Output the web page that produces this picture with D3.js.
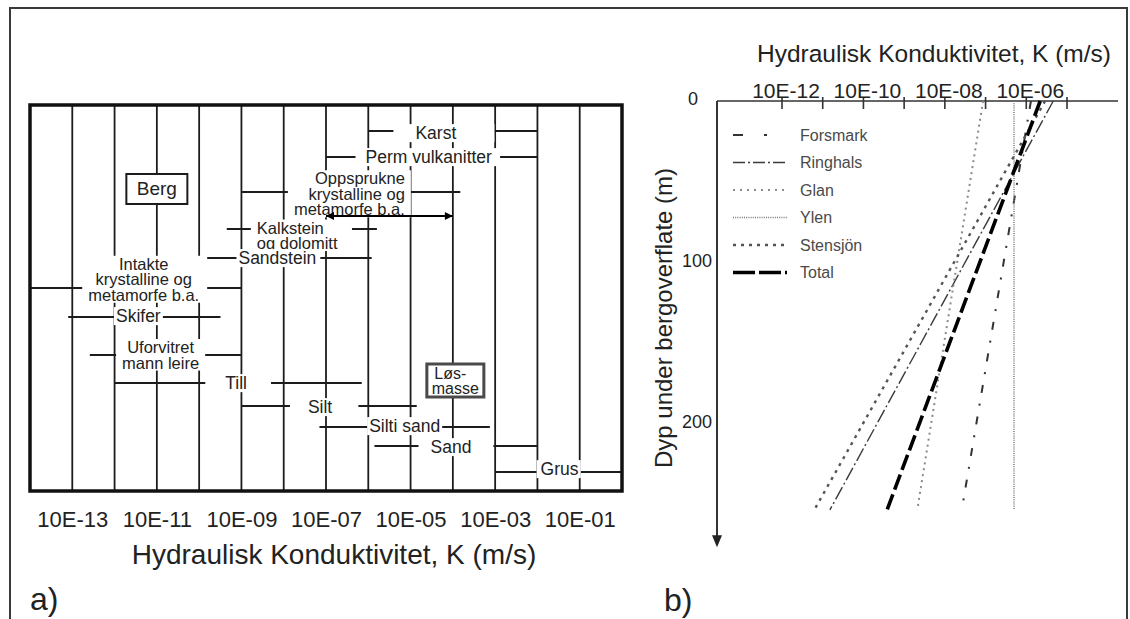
<!DOCTYPE html>
<html>
<head>
<meta charset="utf-8">
<script src="https://cdn.jsdelivr.net/npm/d3@7"></script>
<style>
  html, body { margin: 0; padding: 0; background: #fff; }
  svg { display: block; font-family: "Liberation Sans", Arial, sans-serif; }
</style>
</head>
<body>
<svg id="fig" width="1130" height="619"></svg>
<script>
// ---- Panel a: typical hydraulic conductivity ranges (m/s) ----
const materials = [
  "Karst", "Perm vulkanitter", "Oppsprukne krystalline og metamorfe b.a.",
  "Kalkstein og dolomitt", "Sandstein", "Intakte krystalline og metamorfe b.a.",
  "Skifer", "Uforvitret mann leire", "Till", "Silt", "Silti sand", "Sand", "Grus"
];
const materialLines = [
  ["Karst"], ["Perm vulkanitter"], ["Oppsprukne", "krystalline og", "metamorfe b.a."],
  ["Kalkstein", "og dolomitt"], ["Sandstein"], ["Intakte", "krystalline og", "metamorfe b.a."],
  ["Skifer"], ["Uforvitret", "mann leire"], ["Till"], ["Silt"], ["Silti sand"], ["Sand"], ["Grus"]
];
const kMin = [1e-6, 1e-7, 1e-9, 4.5e-10, 1e-10, 1e-14, 8e-14, 2.6e-13, 1e-12, 1e-9, 7e-8, 1.4e-6, 1e-3];
const kMax = [1e-2, 1e-2, 1.5e-4, 1.6e-6, 1.2e-6, 1e-9, 3.2e-10, 1e-9, 7e-7, 1.4e-5, 7.5e-4, 1e-2, 1];
const groupNames = [["Berg"], ["Løs-", "masse"]];
const groupK = [1e-11, 1e-4];
const fractureArrow = [1e-7, 1e-4];
const gridExpA = [-13, -12, -11, -10, -9, -8, -7, -6, -5, -4, -3, -2, -1];
const labelExpA = [-13, -11, -9, -7, -5, -3, -1];

// ---- Panel b: conductivity trend with depth per site ----
const sites = ["Forsmark", "Ringhals", "Glan", "Ylen", "Stensjön", "Total"];
const depthEnds = [0, 254];
const kTop = [1.3e-6, 4.6e-6, 8.7e-8, 5e-7, 2.9e-6, 2.2e-6];
const kBottom = [2.6e-8, 1.5e-11, 2.1e-9, 5e-7, 6.2e-12, 3.8e-10];
const tickExpB = [-12, -11, -10, -9, -8, -7, -6, -5];
const labelExpB = [-12, -10, -8, -6];
const depthTicks = [0, 100, 200];

const fmtK = e => "10E" + (e < 0 ? "-" : "+") + String(Math.abs(e)).padStart(2, "0");

const svg = d3.select("#fig");
const ink = "#1c1c1c";

// outer frame
svg.append("path").attr("d", "M10,630V8H1127V630")
  .attr("fill", "none").attr("stroke", "#3a3a3a").attr("stroke-width", 2);

// ================= Panel a =================
const boxA = { left: 30, right: 622, top: 105, bottom: 491 };
const xA = d3.scaleLog().domain([1e-14, 1]).range([boxA.left, boxA.right]);
const rowY = d3.scaleOrdinal().domain(materials)
  .range([131, 157, 192, 229, 258, 288, 317, 355, 383, 406, 427, 446, 472]);
// label placement: anchor, x-offset from the log-centre of the range, y-offset of the text block,
// extra white margin left / right of the text
const labelLayout = [
  ["middle", -17, 2, 22, 38], ["middle", -3, 0, 10, 8], ["end", 54, 2, 6, 6], ["start", -45, 6.5, 6, 14],
  ["middle", -8, 0, 2, 4], ["middle", 8, -8.5, 6, 8], ["middle", -6, -1, 2, 2], ["middle", -5, 0, 6, 6],
  ["middle", -2, 0, 20, 24], ["middle", -9, 1, 18, 26], ["middle", 0, -1, 2, 2], ["middle", -5, 1, 12, 22],
  ["middle", 1, -3, 4, 2]
];

const pa = svg.append("g");

// decade grid
pa.append("g").selectAll("line").data(gridExpA).join("line")
  .attr("x1", e => xA(10 ** e)).attr("x2", e => xA(10 ** e))
  .attr("y1", boxA.top).attr("y2", boxA.bottom)
  .attr("stroke", ink).attr("stroke-width", 1.8);

// range bars
pa.append("g").selectAll("line").data(materials).join("line")
  .attr("x1", (d, i) => xA(kMin[i])).attr("x2", (d, i) => xA(kMax[i]))
  .attr("y1", d => rowY(d)).attr("y2", d => rowY(d))
  .attr("stroke", ink).attr("stroke-width", 1.8);

// material labels on white boxes
const fsA = 17.5;
materials.forEach((m, i) => {
  const [anchor, dx, dy, padL, padR] = labelLayout[i];
  const lg = Math.log10(kMin[i]) / 2 + Math.log10(kMax[i]) / 2;
  const x = xA(10 ** lg) + dx;
  const cy = rowY(m) + dy;
  const lines = materialLines[i];
  const multi = lines.length > 1;
  const fs = multi ? 16.5 : fsA;
  const gap = multi ? 15.5 : 0;
  const g = pa.append("g");
  const t = g.append("text").attr("font-size", fs).attr("fill", "#222").attr("text-anchor", anchor);
  lines.forEach((s, j) => {
    t.append("tspan").attr("x", x)
      .attr("y", cy + (j - (lines.length - 1) / 2) * gap + fs * 0.35).text(s);
  });
  const bb = t.node().getBBox();
  g.insert("rect", "text")
    .attr("x", bb.x - padL).attr("y", bb.y + 1).attr("width", bb.width + padL + padR).attr("height", bb.height - 2)
    .attr("fill", "#fff");
});

// double arrow across the fractured-rock range
const defs = svg.append("defs");
["s", "e"].forEach(k => {
  defs.append("marker").attr("id", "ah" + k).attr("viewBox", "0 0 10 10")
    .attr("refX", k === "e" ? 10 : 0).attr("refY", 5)
    .attr("markerWidth", 12).attr("markerHeight", 8).attr("markerUnits", "userSpaceOnUse")
    .attr("orient", "auto")
    .append("path").attr("d", k === "e" ? "M0,0L10,5L0,10Z" : "M10,0L0,5L10,10Z").attr("fill", "#000");
});
pa.append("line")
  .attr("x1", xA(fractureArrow[0])).attr("x2", xA(fractureArrow[1]))
  .attr("y1", 216).attr("y2", 216)
  .attr("stroke", "#000").attr("stroke-width", 2)
  .attr("marker-start", "url(#ahs)").attr("marker-end", "url(#ahe)");

// group boxes (Berg / Løs-masse)
const groupStyle = [{ w: 61, h: 30, cy: 189, sw: 2 }, { w: 57, h: 33, cy: 380.5, sw: 3 }];
groupNames.forEach((lines, i) => {
  const st = groupStyle[i];
  const cx = xA(groupK[i]) + (i === 1 ? 2.5 : 0);
  pa.append("rect").attr("x", cx - st.w / 2).attr("y", st.cy - st.h / 2)
    .attr("width", st.w).attr("height", st.h)
    .attr("fill", "#fff").attr("stroke", i === 1 ? "#4a4a4a" : ink).attr("stroke-width", st.sw);
  const t = pa.append("text").attr("font-size", i === 0 ? 19 : 16).attr("fill", "#222")
    .attr("text-anchor", "middle");
  lines.forEach((s, j) => {
    t.append("tspan").attr("x", cx + (i === 1 && j === 0 ? -5 : 0))
      .attr("y", st.cy + (j - (lines.length - 1) / 2) * 15 + 6).text(s);
  });
});

// panel frame
pa.append("rect").attr("x", boxA.left).attr("y", boxA.top)
  .attr("width", boxA.right - boxA.left).attr("height", boxA.bottom - boxA.top)
  .attr("fill", "none").attr("stroke", "#111").attr("stroke-width", 3.5);

// axis labels
const axA = d3.axisBottom(xA).tickValues(labelExpA.map(e => 10 ** e))
  .tickFormat(v => fmtK(Math.round(Math.log10(v)))).tickSize(0).tickPadding(20);
const gA = pa.append("g").attr("transform", `translate(0,${boxA.bottom})`).call(axA);
gA.select(".domain").remove();
gA.selectAll("text").attr("font-size", 22).attr("fill", "#222")
  .attr("font-family", "Liberation Sans, Arial, sans-serif");

pa.append("text").attr("x", 334).attr("y", 564).attr("text-anchor", "middle")
  .attr("font-size", 28).attr("fill", "#222").text("Hydraulisk Konduktivitet, K (m/s)");
pa.append("text").attr("x", 30).attr("y", 610).attr("font-size", 32).attr("fill", "#222").text("a)");

// ================= Panel b =================
const xB = d3.scaleLog().domain([1e-12, 1e-5]).range([782, 1067]);
const yB = d3.scaleLinear().domain([0, 200]).range([101, 423]);
const axisX0 = 717, axisX1 = 1118;
const pb = svg.append("g");

// axes
pb.append("line").attr("x1", axisX0).attr("x2", axisX1).attr("y1", yB(0)).attr("y2", yB(0))
  .attr("stroke", "#333").attr("stroke-width", 1.6);
pb.append("g").selectAll("line").data(tickExpB).join("line")
  .attr("x1", e => xB(10 ** e)).attr("x2", e => xB(10 ** e))
  .attr("y1", yB(0) - 4).attr("y2", yB(0) + 8)
  .attr("stroke", "#333").attr("stroke-width", 1.6);
pb.append("g").selectAll("text").data(labelExpB).join("text")
  .attr("x", e => xB(10 ** e) + 4).attr("y", 98).attr("text-anchor", "middle")
  .attr("font-size", 21).attr("fill", "#222").text(e => fmtK(e));
pb.append("text").attr("x", 934).attr("y", 62).attr("text-anchor", "middle")
  .attr("font-size", 24.5).attr("fill", "#222").text("Hydraulisk Konduktivitet, K (m/s)");

const depthMax = 276;
pb.append("line").attr("x1", axisX0).attr("x2", axisX0).attr("y1", yB(0)).attr("y2", yB(depthMax) - 8)
  .attr("stroke", "#333").attr("stroke-width", 2);
pb.append("path")
  .attr("d", `M${axisX0 - 5},${yB(depthMax) - 10}L${axisX0 + 5},${yB(depthMax) - 10}L${axisX0},${yB(depthMax) + 2}Z`)
  .attr("fill", "#222");
pb.append("g").selectAll("text").data(depthTicks).join("text")
  .attr("x", d => d === 0 ? 698 : 712).attr("y", d => yB(d) + (d === 0 ? 4 : 5))
  .attr("text-anchor", "end").attr("font-size", 18).attr("fill", "#222").text(d => d);
pb.append("text").attr("transform", "translate(672,318) rotate(-90)").attr("text-anchor", "middle")
  .attr("font-size", 24).attr("fill", "#222").text("Dyp under bergoverflate (m)");

// site lines
const siteStyle = [
  { c: "#333", w: 2, dash: "8,11,2,11" },
  { c: "#3a3a3a", w: 1.4, dash: "14,3,2,3" },
  { c: "#8a8a8a", w: 2, dash: "2,4" },
  { c: "#777", w: 1.5, dash: "1,1.2" },
  { c: "#555", w: 2.4, dash: "3,5" },
  { c: "#000", w: 3.6, dash: "16,5" }
];
const lineGen = d3.line().x(d => xB(d[1])).y(d => yB(d[0]));
pb.append("g").selectAll("path").data(sites).join("path")
  .attr("d", (s, i) => lineGen([[depthEnds[0], kTop[i]], [depthEnds[1], kBottom[i]]]))
  .attr("fill", "none")
  .attr("stroke", (s, i) => siteStyle[i].c).attr("stroke-width", (s, i) => siteStyle[i].w)
  .attr("stroke-dasharray", (s, i) => siteStyle[i].dash);

// legend
const legY = d3.scalePoint().domain(sites).range([135, 272.5]);
const legendDash = ["10,21,3,40", "12,3,2,3", "2,5", "1,1.2", "3,5", "22,4"];
const leg = pb.append("g");
sites.forEach((s, i) => {
  leg.append("line").attr("x1", 733).attr("x2", 787).attr("y1", legY(s)).attr("y2", legY(s))
    .attr("stroke", siteStyle[i].c).attr("stroke-width", siteStyle[i].w)
    .attr("stroke-dasharray", legendDash[i]);
  leg.append("text").attr("x", 800).attr("y", legY(s) + 5.5).attr("font-size", 16)
    .attr("fill", "#4a4a4a").text(s);
});

pb.append("text").attr("x", 664).attr("y", 611).attr("font-size", 32).attr("fill", "#222").text("b)");
</script>
</body>
</html>
